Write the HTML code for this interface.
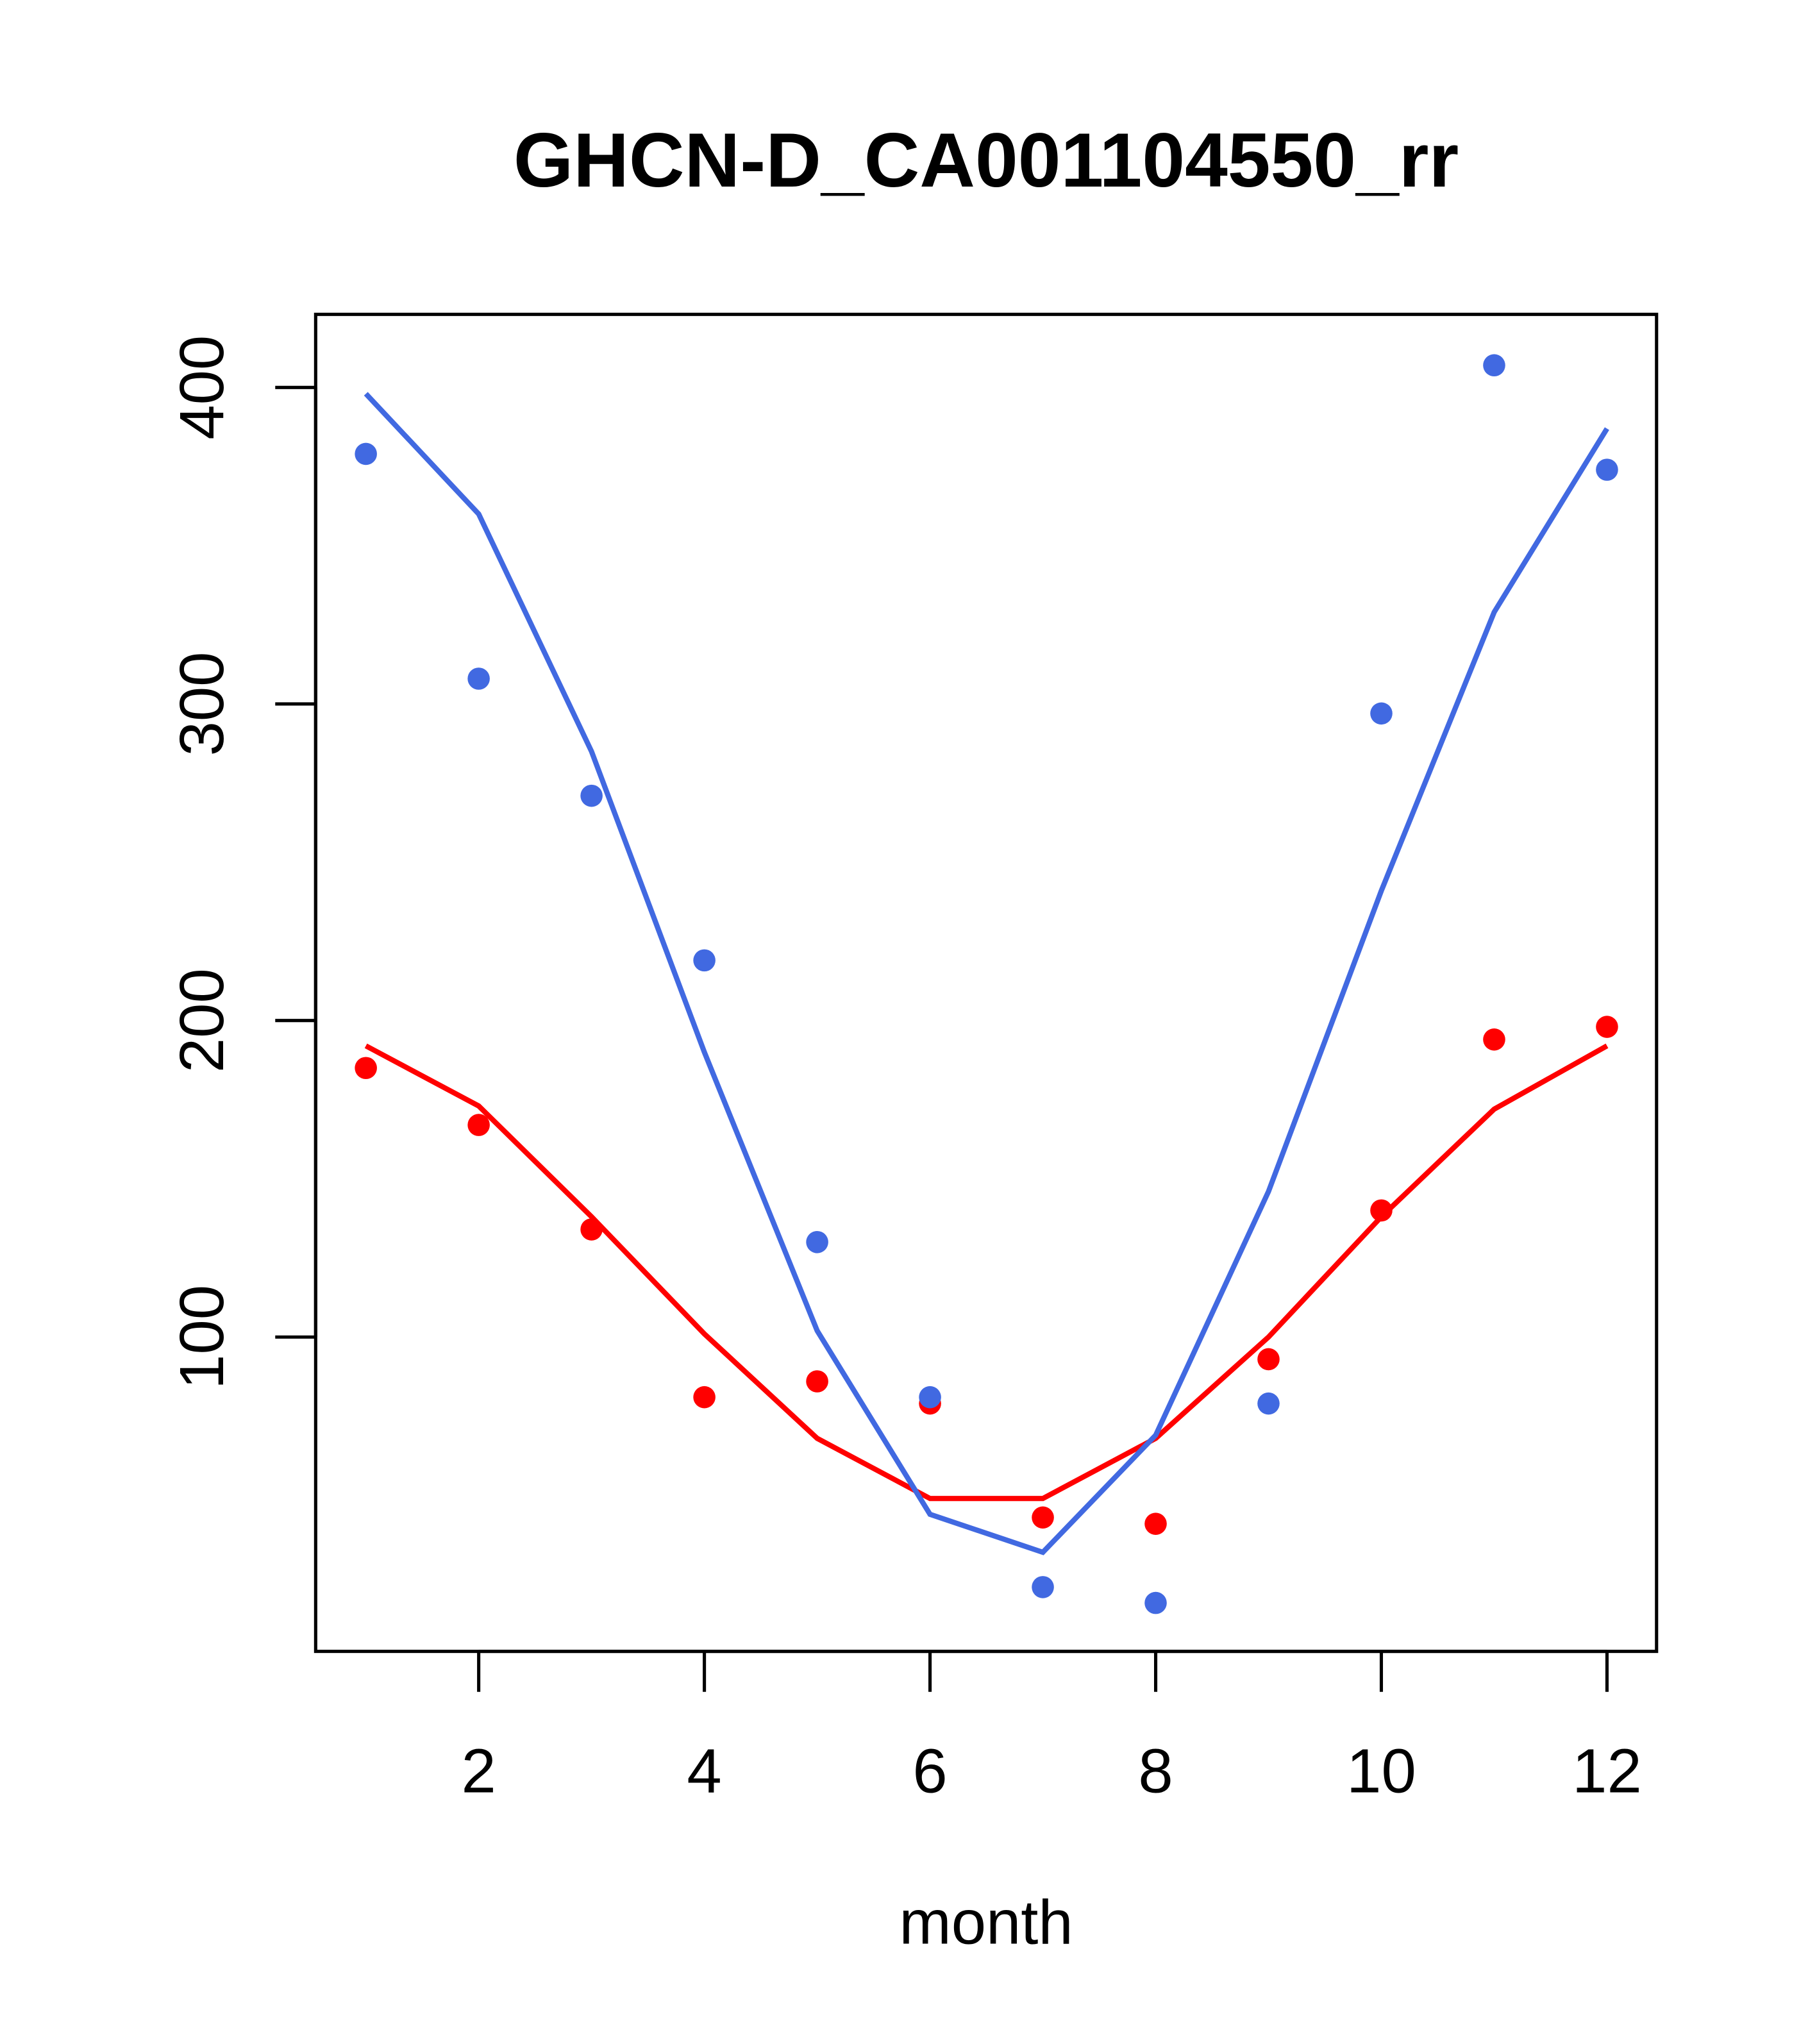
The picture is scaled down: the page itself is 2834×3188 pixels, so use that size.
<!DOCTYPE html>
<html><head><meta charset="utf-8"><style>html,body{margin:0;padding:0;background:#fff}svg{display:block}</style></head>
<body>
<svg id="chart" width="2834" height="3188" viewBox="0 0 1393 1567" preserveAspectRatio="none" xmlns="http://www.w3.org/2000/svg" font-family="Liberation Sans, Arial, sans-serif">
<rect width="1400" height="1575" fill="#fff"/>
<text x="756" y="143" font-size="59" font-weight="bold" text-anchor="middle">GHCN-D_CA001104550_rr</text>
<rect x="242" y="241" width="1028" height="1025" fill="none" stroke="#000" stroke-width="2.5"/>
<text x="756" y="1490" font-size="48" text-anchor="middle">month</text>
<g id="xaxis"></g>
<g id="yaxis"></g>
<g id="series"></g>
</svg>
<script>
const months=[1,2,3,4,5,6,7,8,9,10,11,12];
const bluePoints=[379,308,271,219,130,81,21,16,79,297,407,374];
const blueLine=[398,360,285,190,102,44,32,69,146,241,329,387];
const redPoints=[185,167,134,81,86,79,43,41,93,140,194,198];
const redLine=[192,173,138,101,68,49,49,68,100,138,172,192];
const xTicks=[2,4,6,8,10,12];
const yTicks=[100,200,300,400];
const NS='http://www.w3.org/2000/svg';
function X(m){return 280.5+(m-1)*86.5;}
function Y(v){return 1267.7-v*2.4267;}
function mk(tag,attrs,parent){const e=document.createElementNS(NS,tag);for(const k in attrs)e.setAttribute(k,attrs[k]);parent.appendChild(e);return e;}
const xa=document.getElementById('xaxis'),ya=document.getElementById('yaxis'),se=document.getElementById('series');
mk('line',{x1:X(2),x2:X(12),y1:1266,y2:1266,stroke:'#000','stroke-width':2.5},xa);
xTicks.forEach(t=>{
 const l=mk('line',{x1:X(t),x2:X(t),y1:1266,y2:1297,stroke:'#000','stroke-width':2.5},xa);
 
 
 const tx=mk('text',{x:X(t),y:1374,'font-size':48,'text-anchor':'middle'},xa);tx.textContent=t;
 
 
});
mk('line',{x1:242,x2:242,y1:Y(100),y2:Y(400),stroke:'#000','stroke-width':2.5},ya);
yTicks.forEach(t=>{
 const l=mk('line',{x1:211,x2:242,y1:Y(t),y2:Y(t),stroke:'#000','stroke-width':2.5},ya);
 
 
 const tx=mk('text',{x:0,y:0,'font-size':48,'text-anchor':'middle',transform:`translate(171,${Y(t)}) rotate(-90)`},ya);tx.textContent=t;
 
 
});
function line(vals,color,name){
 const p=mk('polyline',{points:vals.map((v,i)=>X(months[i])+','+Y(v)).join(' '),fill:'none',stroke:color,'stroke-width':4},se);
 
 
}
function pts(vals,color,name){
 vals.forEach((v,i)=>{
  const c=mk('circle',{cx:X(months[i]),cy:Y(v),r:8.5,fill:color},se);
  
  
 });
}
line(redLine,'#ff0000','red-line');
line(blueLine,'#4169e1','blue-line');
pts(redPoints,'#ff0000','red-point');
pts(bluePoints,'#4169e1','blue-point');
</script>
</body></html>
